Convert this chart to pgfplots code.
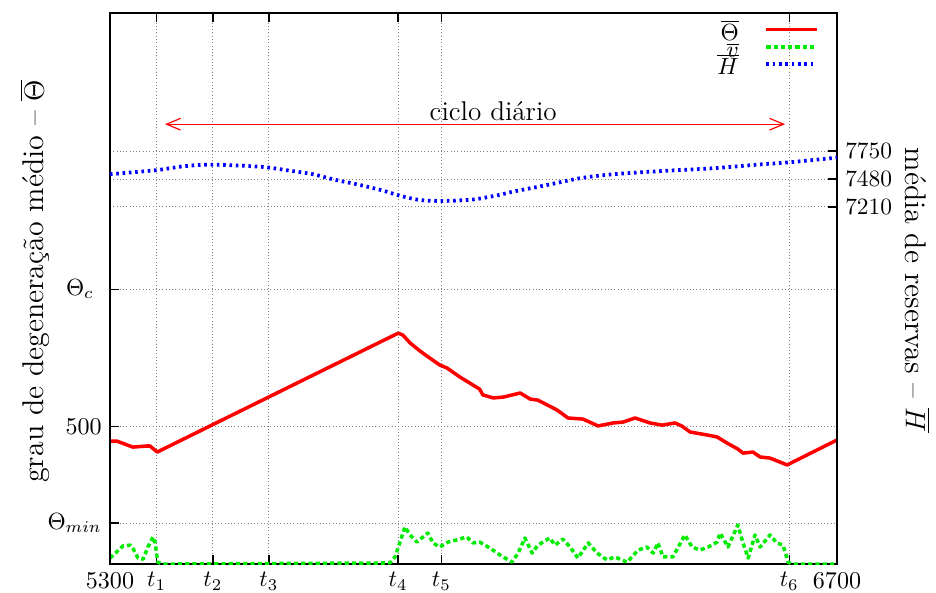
\documentclass[border=0pt]{standalone}
\usepackage{fontspec}
\usepackage{pgfplots}
\pgfplotsset{compat=1.18}
\usetikzlibrary{arrows.meta}

\definecolor{gpred}{RGB}{255,0,0}
\definecolor{gpgreen}{RGB}{0,235,0}
\definecolor{gpblue}{RGB}{0,0,255}

\pgfplotsset{
  gp/.style={
    scale only axis,
    width=310.7pt, height=235.5pt,
    xmin=5300, xmax=6700,
    axis line style={line width=0.8pt},
    grid style={densely dotted, gray, line width=0.4pt},
    tick style={black, line width=0.6pt},
    major tick length=4pt,
    tick label style={font=\fontsize{10.3}{12}\selectfont},
    label style={font=\fontsize{12.8}{15}\selectfont},
    /pgf/number format/1000 sep={},
  },
  thetaline/.style={gpred, line width=1.5pt, line join=round},
  vline/.style={gpgreen, line width=1.5pt, dash pattern=on 1.8pt off 1.3pt, line join=round},
  hline/.style={gpblue, line width=1.6pt, dash pattern=on 1.1pt off 1.6pt},
}

\begin{document}
\begin{tikzpicture}
\useasboundingbox (-47pt,-11.97pt) rectangle (353pt,241.06pt);

% left scale: mean degeneration degree and its rate
\begin{axis}[gp,
  ymin=0, ymax=2007,
  xtick={5300,5390,5498,5606,5855,5938,6608,6700},
  xticklabels={5300,$t_1$,$t_2$,$t_3$,$t_4$,$t_5$,$t_6$,6700},
  xtick pos=both,
  ytick={149,500,1001},
  yticklabels={$\Theta_{min}$,500,$\Theta_c\hspace{3.4pt}$},
  ytick pos=left,
  xmajorgrids, ymajorgrids,
  ylabel={grau de degeneração médio -- $\overline{\Theta}$},
  ylabel style={at={(axis description cs:-0.103,0.513)}, anchor=center},
  legend style={at={(axis description cs:0.975,0.975)}, anchor=north east,
    draw=none, fill=none, inner sep=0pt, font=\fontsize{10.3}{12}\selectfont,
    nodes={inner sep=0pt, text height=5.6pt, text depth=1.7pt},
    row sep=0pt, column sep=11pt},
  legend cell align=right,
  legend plot pos=right,
  legend image code/.code={\draw[#1] (0pt,2.6pt) -- (21.4pt,2.6pt);},
]
\addplot[thetaline] coordinates {
(5300,448) (5313,448) (5344,426) (5371,430) (5377,430) (5391,408)
(5855,841) (5864,834) (5878,805) (5897,776) (5916,750) (5935,725)
(5949,714) (5974,681) (5993,659) (6012,637) (6018,616) (6038,605)
(6057,608) (6090,623) (6109,601) (6124,597) (6161,561) (6182,532)
(6211,528) (6240,503) (6269,514) (6288,517) (6311,532) (6340,514)
(6363,506) (6388,514) (6401,503) (6417,481) (6450,470) (6469,463)
(6488,441) (6509,419) (6519,404) (6538,408) (6552,390) (6571,386)
(6604,361) (6700,452)
};
\addlegendentry{$\overline{\Theta}$}

\addplot[vline] coordinates {
(5300,22) (5313,44) (5325,66) (5339,69) (5344,58) (5354,22) (5364,18)
(5373,62) (5383,99) (5387,77) (5392,7) (5402,0) (5839,4) (5849,26)
(5858,77) (5868,135) (5878,106) (5891,80) (5903,99) (5912,113) (5922,77)
(5935,62) (5951,80) (5968,88) (5987,99) (5999,77) (6012,80) (6032,58)
(6051,33) (6074,7) (6086,40) (6099,95) (6113,40) (6124,69) (6147,95)
(6157,69) (6172,91) (6186,62) (6201,22) (6221,77) (6238,40) (6257,15)
(6272,26) (6296,7) (6317,51) (6334,62) (6346,40) (6355,77) (6365,26)
(6384,26) (6407,106) (6421,62) (6436,51) (6452,62) (6469,80) (6475,113)
(6490,62) (6509,142) (6519,77) (6529,22) (6542,106) (6552,62) (6571,106)
(6584,77) (6596,69) (6606,7) (6613,0) (6700,0)
};
\addlegendentry{$\overline{v}$}

\addlegendimage{hline}
\addlegendentry{$\overline{H}$}

% daily cycle
\draw[gpred, line width=0.5pt,
  {Straight Barb[length=6pt,width=5pt]}-{Straight Barb[length=6pt,width=5pt]}]
  (axis cs:5406,1602) -- (axis cs:6600,1602);
\node[anchor=base, inner sep=0pt, font=\fontsize{11.6}{14}\selectfont]
  at (axis cs:6038,1617) {ciclo diário};
\end{axis}

% right scale: mean reserves
\begin{axis}[gp,
  ymin=3747, ymax=9089,
  hide x axis,
  ytick={7210,7480,7750},
  ytick pos=right, yticklabel pos=right,
  ymajorgrids,
  ylabel={média de reservas -- $\overline{H}$},
  ylabel style={at={(axis description cs:1.111,0.497)}, anchor=center, rotate=180},
]
\addplot[hline, smooth] coordinates {
(5300,7526) (5344,7545) (5392,7567) (5435,7599) (5473,7616) (5518,7616)
(5564,7606) (5602,7593) (5647,7560) (5691,7526) (5729,7477) (5781,7422)
(5826,7367) (5858,7318) (5897,7276) (5941,7267) (5987,7276) (6012,7290)
(6051,7327) (6076,7357) (6142,7422) (6205,7487) (6269,7526) (6365,7558)
(6461,7584) (6557,7623) (6609,7642) (6700,7687)
};
\end{axis}
\end{tikzpicture}
\end{document}
